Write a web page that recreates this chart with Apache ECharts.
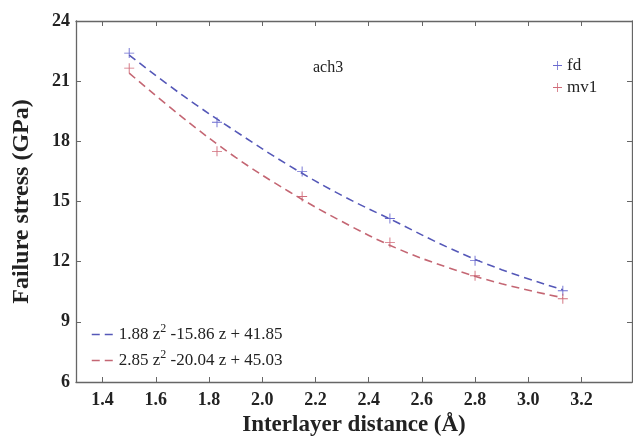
<!DOCTYPE html>
<html><head><meta charset="utf-8">
<script src="https://cdn.jsdelivr.net/npm/echarts@6/dist/echarts.min.js"></script>
<style>html,body{margin:0;padding:0;background:#fff}#c{width:633px;height:438px}</style>
</head><body><div id="c"></div>
<script>
const xTicks = [1.4, 1.6, 1.8, 2.0, 2.2, 2.4, 2.6, 2.8, 3.0, 3.2];
const distances = [1.50, 1.83, 2.15, 2.48, 2.80, 3.13];
const fdValues = [22.4, 18.95, 16.5, 14.15, 12.05, 10.55];
const mv1Values = [21.65, 17.5, 15.25, 12.95, 11.3, 10.15];
const fitZ = [1.50, 1.70, 1.90, 2.10, 2.30, 2.50, 2.70, 2.90, 3.13];
const fdFit = [22.3, 20.3, 18.5, 16.8, 15.3, 14.0, 12.7, 11.6, 10.6];
const mv1Fit = [21.4, 19.2, 17.2, 15.5, 14.0, 12.7, 11.7, 10.9, 10.2];
const fitLabels = {'fd fit': '1.88 z{s|2} -15.86 z + 41.85', 'mv1 fit': '2.85 z{s|2} -20.04 z + 45.03'};

const pair = (xs, ys) => xs.map((x, i) => [x, ys[i]]);
const plus = 'path://M-0.9,-10 L0.9,-10 L0.9,-0.9 L10,-0.9 L10,0.9 L0.9,0.9 L0.9,10 L-0.9,10 L-0.9,0.9 L-10,0.9 L-10,-0.9 L-0.9,-0.9 Z';
const FONT = '"Liberation Serif", "DejaVu Serif", serif';
const blue = '#5558b8', red = '#c46673';
const axisCommon = {
  axisLine: {lineStyle: {color: '#666', width: 1.3}},
  axisTick: {inside: true, length: 5, lineStyle: {color: '#666'}},
  splitLine: {show: false}
};
const chart = echarts.init(document.getElementById('c'), null, {renderer: 'canvas'});
chart.setOption({
  animation: false,
  backgroundColor: '#fff',
  title: {text: 'ach3', left: 308, top: 55, textStyle: {fontFamily: FONT, fontWeight: 'normal', fontSize: 16, color: '#222'}},
  grid: {left: 76, right: 1, top: 21, bottom: 56, containLabel: false, outerBoundsMode: 'none'},
  legend: [
    {data: ['fd', 'mv1'], orient: 'vertical', left: 548, top: 52, itemGap: 5, itemWidth: 9, itemHeight: 9,
     textStyle: {fontFamily: FONT, fontSize: 17, color: '#222'}},
    {data: [{name: 'fd fit', itemStyle: {opacity: 0}}, {name: 'mv1 fit', itemStyle: {opacity: 0}}],
     orient: 'vertical', left: 86, top: 318, itemGap: 6, itemWidth: 22, itemHeight: 10,
     lineStyle: {type: [8, 5], width: 1.5},
     formatter: n => fitLabels[n],
     textStyle: {fontFamily: FONT, fontSize: 17, color: '#222', rich: {s: {fontFamily: FONT, fontSize: 12, color: '#222', verticalAlign: 'top', padding: [0, 0, 11, 0]}}}}
  ],
  xAxis: [
    Object.assign({type: 'value', min: 1.3, max: 3.39, position: 'bottom',
      name: 'Interlayer distance (Å)', nameLocation: 'middle', nameGap: 31,
      nameTextStyle: {fontFamily: FONT, fontWeight: 'bold', fontSize: 23, color: '#222'},
      axisLabel: {customValues: xTicks, formatter: v => v.toFixed(1), fontFamily: FONT, fontWeight: 'bold', fontSize: 18, color: '#222', margin: 9}},
      axisCommon, {axisTick: Object.assign({}, axisCommon.axisTick, {customValues: xTicks})}),
    Object.assign({type: 'value', min: 1.3, max: 3.39, position: 'top', axisLabel: {show: false}},
      axisCommon, {axisTick: Object.assign({}, axisCommon.axisTick, {customValues: xTicks})})
  ],
  yAxis: [
    Object.assign({type: 'value', min: 6, max: 24, interval: 3, position: 'left',
      name: 'Failure stress (GPa)', nameLocation: 'middle', nameGap: 42,
      nameTextStyle: {fontFamily: FONT, fontWeight: 'bold', fontSize: 24, color: '#222'},
      axisLabel: {fontFamily: FONT, fontWeight: 'bold', fontSize: 18, color: '#222', margin: 6}}, axisCommon),
    Object.assign({type: 'value', min: 6, max: 24, interval: 3, position: 'right', axisLabel: {show: false}}, axisCommon)
  ],
  series: [
    {name: 'fd fit', type: 'line', smooth: 0.4, symbol: 'none', data: pair(fitZ, fdFit),
     lineStyle: {color: blue, width: 1.6, type: [8, 5]}, itemStyle: {color: blue}},
    {name: 'mv1 fit', type: 'line', smooth: 0.4, symbol: 'none', data: pair(fitZ, mv1Fit),
     lineStyle: {color: red, width: 1.6, type: [8, 5]}, itemStyle: {color: red}},
    {name: 'fd', type: 'scatter', symbol: plus, symbolSize: 10, data: pair(distances, fdValues), itemStyle: {color: '#4646c4'}},
    {name: 'mv1', type: 'scatter', symbol: plus, symbolSize: 10, data: pair(distances, mv1Values), itemStyle: {color: '#c44658'}}
  ]
});
</script></body></html>
